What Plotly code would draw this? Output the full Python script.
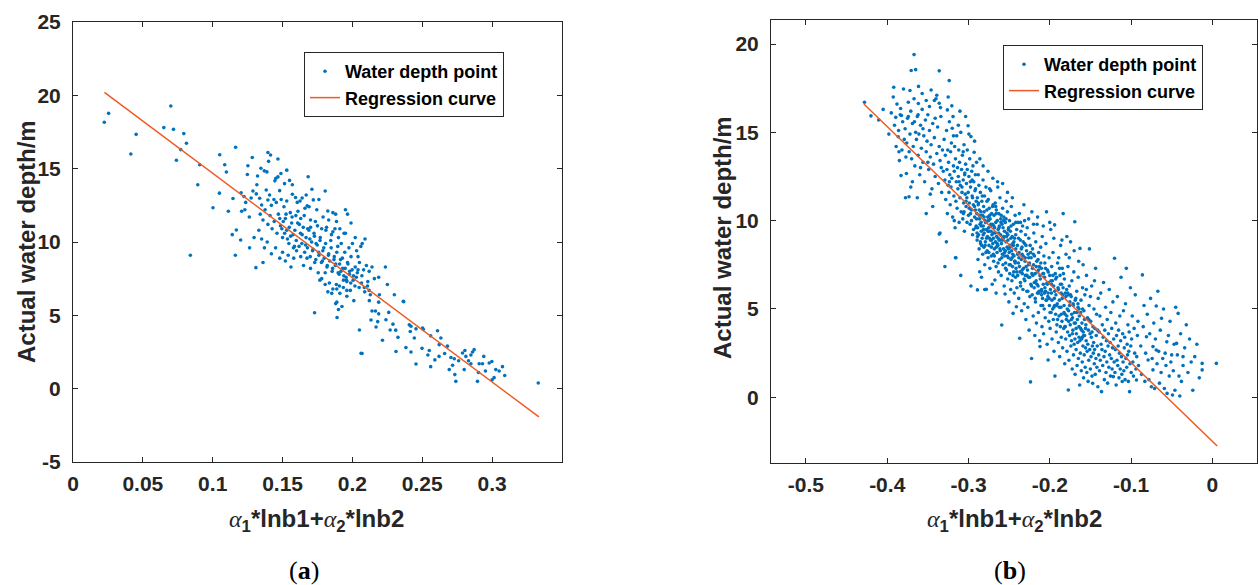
import plotly.graph_objects as go

# ---------------- Panel (a) data ----------------
pts_a_left = [(0.0224,18.16),(0.0255,18.77),(0.0414,16.0),(0.0452,17.34),(0.065,17.8),(0.070,19.27),
    (0.0719,17.68),(0.0793,17.39),(0.0812,16.73),(0.0771,16.3),(0.074,15.57),(0.0907,15.27),(0.0893,13.9),(0.084,9.1)]
pts_a_b = [(0.1002,12.34),(0.1048,13.33),(0.105,15.95),(0.1086,15.27),(0.1098,14.77),(0.1112,12.1),(0.1140,10.5),
    (0.1169,10.82),(0.1164,16.46),(0.1162,9.1),(0.1200,10.14),(0.1203,13.35),(0.1207,12.1),(0.1145,12.97),(0.1264,9.6),
    (0.1309,8.25),(0.1283,15.76),(0.1252,15.2),(0.1248,14.6),(0.1224,13.1),(0.1236,12.7),(0.1275,13.0),(0.1288,13.48),
    (0.1262,11.7),(0.1296,10.3),(0.1230,12.2)]
pts_a_c = [(0.1321,14.5),(0.1316,13.9),(0.1345,15.03),(0.1395,16.1),(0.1414,15.93),(0.1400,15.5),(0.1467,15.66),
    (0.1369,14.85),(0.1388,14.78),(0.1452,14.35),(0.1467,14.44),(0.1445,14.17),(0.1488,14.67),(0.1514,13.98),(0.1312,13.28),
    (0.1336,12.98),(0.1383,13.55),(0.1407,13.2),(0.1438,12.9),(0.1479,13.5),(0.1350,12.52),(0.1395,12.86),(0.1420,12.5),
    (0.1455,12.7),(0.1490,12.9),(0.1340,11.9),(0.1360,11.5),(0.1375,12.2),(0.1395,11.2),(0.1410,11.8),(0.1425,10.9),
    (0.1440,11.4),(0.1460,10.6),(0.1470,11.9),(0.1485,11.1),(0.1500,10.3),(0.1510,12.4),(0.1520,11.6),(0.1530,10.8),
    (0.1545,9.9),(0.1555,12.0),(0.1565,11.3),(0.1575,10.5),(0.1585,9.7),(0.1595,11.8),(0.1350,10.2),(0.1370,9.6),
    (0.1390,10.0),(0.1420,9.2),(0.1450,9.6),(0.1480,8.9),(0.1500,9.3),(0.1520,8.7),(0.1540,9.1),(0.1560,8.3),(0.1580,8.9),
    (0.1600,9.4),(0.1570,13.26),(0.1593,13.03),(0.1605,12.7),(0.1570,13.9),(0.1330,10.8),(0.1360,8.6),(0.1530,14.9),(0.1550,14.2)]
pts_a_d = [(0.1683,14.45),(0.1669,13.2),(0.1720,12.87),(0.1676,12.46),(0.1805,13.48),(0.1824,12.11),(0.1860,12.0),
    (0.1886,11.4),(0.1620,11.2),(0.1640,10.5),(0.1655,11.8),(0.1665,9.8),(0.1680,10.9),(0.1695,10.2),(0.1700,11.5),
    (0.1715,9.4),(0.1725,10.6),(0.1740,9.9),(0.1750,11.1),(0.1760,9.1),(0.1770,10.3),(0.1785,8.7),(0.1795,9.6),(0.1810,10.8),
    (0.1820,8.4),(0.1830,9.2),(0.1845,10.1),(0.1855,8.0),(0.1870,9.0),(0.1880,8.5),(0.1895,9.7),(0.1905,7.8),(0.1915,8.8),
    (0.1930,8.2),(0.1945,9.3),(0.1955,7.6),(0.1965,8.6),(0.1980,8.0),(0.1990,9.0),(0.2005,7.4),(0.2020,8.3),(0.2035,7.9),
    (0.2050,8.6),(0.2065,7.2),(0.2080,8.1),(0.1630,9.0),(0.1650,8.4),(0.1675,8.9),(0.1700,8.2),(0.1730,8.6),(0.1755,7.9),
    (0.1780,7.5),(0.1805,7.9),(0.1835,7.2),(0.1860,6.8),(0.1885,7.1),(0.1910,6.5),(0.1935,6.9),(0.1960,6.3),(0.1985,6.7),
    (0.1925,5.6),(0.1729,5.18),(0.1880,5.8),(0.1890,4.85),(0.2010,6.0),(0.1690,12.4),(0.1710,13.6),(0.1745,12.2),
    (0.1760,12.9),(0.1790,11.7),(0.1815,11.0),(0.1850,10.5),(0.1875,10.9),(0.1900,10.3),(0.1920,9.9),(0.1950,10.6),
    (0.1975,9.6),(0.2000,9.9),(0.2030,9.4),(0.2060,9.7),(0.2090,10.2),(0.1640,13.0),(0.1660,12.3),(0.1625,12.8),
    (0.1950,12.2),(0.1965,11.9),(0.1990,11.3),(0.2040,9.0),(0.2100,8.4),(0.2120,8.0),(0.2140,8.3),(0.2110,7.3),
    (0.1767,7.4),(0.1805,7.1),(0.1824,6.6),(0.1852,6.5),(0.1888,6.8),(0.1907,7.0),(0.1936,7.4),(0.1960,7.3),(0.1888,5.9),
    (0.1900,5.4),(0.1960,6.7)]
pts_a_core = [(0.1480,11.6),(0.1495,10.9),(0.1505,11.4),(0.1515,10.6),(0.1525,11.9),(0.1535,10.2),(0.1548,11.0),
    (0.1558,10.4),(0.1568,11.7),(0.1578,9.6),(0.1588,10.8),(0.1598,10.1),(0.1608,11.3),(0.1618,9.7),(0.1628,10.6),
    (0.1638,9.9),(0.1648,11.0),(0.1658,9.3),(0.1668,10.3),(0.1678,9.6),(0.1688,10.8),(0.1698,9.0),(0.1708,10.0),
    (0.1718,9.5),(0.1728,10.4),(0.1738,8.8),(0.1748,9.8),(0.1758,9.3),(0.1768,10.1),(0.1778,8.6),(0.1788,9.4),(0.1798,8.9),
    (0.1808,9.9),(0.1818,8.3),(0.1828,9.1),(0.1838,8.7),(0.1848,9.6),(0.1858,8.2),(0.1868,8.8),(0.1878,8.4),(0.1888,9.3),
    (0.1898,7.9),(0.1908,8.5),(0.1918,8.0),(0.1928,8.9),(0.1938,7.7),(0.1948,8.2),(0.1958,7.4),(0.1968,8.5),(0.1978,7.8),
    (0.1988,7.2),(0.1998,8.1),(0.2008,7.7),(0.2018,7.0),(0.2028,7.6),(0.2048,6.9),(0.2068,7.7),(0.2088,6.6),(0.2108,7.0),
    (0.2128,6.4),(0.1530,12.8),(0.1610,12.1),(0.1630,11.6),(0.1700,11.0),(0.1735,11.4),(0.1780,10.9),(0.1830,11.5),
    (0.1860,10.7),(0.1880,11.9),(0.1910,10.9),(0.1940,10.6),(0.2020,10.3),(0.2070,9.9),(0.2040,8.1)]
pts_a_right = [(0.2050,4.0),(0.2062,2.41),(0.2121,6.0),(0.2133,4.68),(0.2181,4.57),(0.2169,4.2),(0.2140,5.3),
    (0.2165,5.3),(0.2188,5.1),(0.2240,4.7),(0.2188,5.9),(0.2193,6.4),(0.2085,6.9),(0.2120,6.7),(0.2157,7.5),(0.2188,7.6),
    (0.2236,8.3),(0.2364,5.96),(0.2310,3.99),(0.2326,3.5),(0.2383,2.8),(0.2312,2.53),(0.2407,4.35),(0.2419,4.26),
    (0.2455,4.08),(0.2443,3.45),(0.2502,4.13),(0.2455,1.68),(0.2498,2.75),(0.2540,2.3),(0.2550,2.6),(0.2590,1.96),
    (0.2609,3.95),(0.2633,3.45),(0.2621,3.0),(0.2693,1.3),(0.2717,1.6),(0.2705,2.13),(0.2729,2.04),(0.2733,0.96),
    (0.2740,0.5),(0.2788,2.43),(0.2805,2.6),(0.2812,2.2),(0.2848,2.3),(0.2860,2.5),(0.2871,2.66),(0.2831,1.9),(0.2848,1.7),
    (0.2907,1.7),(0.2931,1.7),(0.2979,1.75),(0.2998,1.85),(0.2902,1.1),(0.2895,0.5),(0.2952,1.2),(0.3026,1.3),(0.3050,1.2),
    (0.3074,1.5),(0.3014,0.75),(0.3330,0.39),(0.2507,4.05),(0.2414,3.9),(0.2419,2.5),(0.2367,5.93),(0.2069,2.4),
    (0.2260,5.2),(0.2290,4.4),(0.2215,3.3),(0.2560,3.6),(0.2660,2.4),(0.2680,2.9),(0.2760,1.9),(0.2560,1.5),(0.2620,2.2),
    (0.2800,1.3),(0.3000,0.6),(0.3090,0.9),(0.2940,2.2),(0.2250,7.1),(0.2300,6.4),(0.2270,4.0)]

# ---------------- Panel (b) data ----------------
pts_b1 = [(-0.428,16.7),(-0.420,15.93),(-0.4105,15.7),(-0.405,16.3),(-0.398,14.9),(-0.395,16.1),(-0.392,17.55),
    (-0.3926,17.0),(-0.391,15.4),(-0.389,14.2),(-0.388,16.6),(-0.386,15.1),(-0.385,13.4),(-0.384,16.0),(-0.3819,14.0),
    (-0.381,15.6),(-0.380,17.45),(-0.383,12.55),(-0.379,14.6),(-0.3825,15.95),(-0.3865,14.75),(-0.3895,15.85),
    (-0.3775,11.3),(-0.3835,16.35),(-0.3855,13.9)]
pts_b2 = [(-0.367,19.4),(-0.3705,18.5),(-0.365,18.55),(-0.336,18.48),(-0.3237,17.93),(-0.372,17.37),(-0.374,16.7),
    (-0.3617,16.63),(-0.348,16.46),(-0.342,16.8),(-0.336,16.65),(-0.326,16.27),(-0.325,17.0),(-0.3764,12.67),(-0.3732,11.35),
    (-0.352,10.4),(-0.336,9.24),(-0.378,15.2),(-0.376,14.4),(-0.375,15.8),(-0.373,13.9),(-0.372,14.9),(-0.371,16.2),
    (-0.370,13.5),(-0.369,15.5),(-0.368,14.2),(-0.367,16.9),(-0.366,13.1),(-0.365,15.0),(-0.364,14.6),(-0.363,15.9),
    (-0.362,13.7),(-0.361,14.9),(-0.360,12.6),(-0.359,15.4),(-0.358,14.1),(-0.357,16.3),(-0.356,13.3),(-0.355,14.8),
    (-0.354,12.2),(-0.353,15.7),(-0.352,13.9),(-0.351,14.5),(-0.350,16.0),(-0.349,12.9),(-0.348,15.1),(-0.347,13.6),
    (-0.346,14.3),(-0.345,11.8),(-0.344,15.5),(-0.343,13.2),(-0.342,14.7),(-0.341,12.5),(-0.340,16.9),(-0.339,13.8),
    (-0.338,15.3),(-0.337,12.1),(-0.336,14.2),(-0.335,13.4),(-0.334,15.9),(-0.333,11.6),(-0.332,14.0),(-0.331,12.8),
    (-0.374,15.9),(-0.369,12.2),(-0.363,11.3),(-0.357,17.2),(-0.352,16.8),(-0.346,17.4),(-0.344,10.8),(-0.339,17.1),
    (-0.3345,16.4),(-0.359,13.0),(-0.356,15.2),(-0.362,16.0),(-0.377,13.6),(-0.371,11.9),(-0.350,13.3),(-0.347,11.5),
    (-0.341,15.8),(-0.3335,13.0),(-0.3615,17.6),(-0.3665,15.6)]
pts_b3 = [(-0.330,14.6),(-0.329,12.3),(-0.3285,13.7),(-0.328,11.2),(-0.327,15.1),(-0.3265,12.9),(-0.326,10.4),
    (-0.3255,14.0),(-0.325,12.0),(-0.3245,13.3),(-0.324,11.6),(-0.3235,15.6),(-0.323,12.6),(-0.3225,10.9),(-0.322,13.9),
    (-0.3215,11.9),(-0.321,14.4),(-0.3205,12.4),(-0.320,15.23),(-0.3195,10.2),(-0.319,15.89),(-0.3185,13.1),(-0.318,11.4),
    (-0.3175,12.8),(-0.317,14.2),(-0.3165,9.6),(-0.316,13.5),(-0.3155,11.1),(-0.315,12.2),(-0.3145,14.8),(-0.314,10.7),
    (-0.3135,13.0),(-0.313,11.8),(-0.3125,12.5),(-0.312,14.0),(-0.3115,9.9),(-0.311,13.3),(-0.3105,11.3),(-0.310,12.0),
    (-0.3095,15.0),(-0.309,10.5),(-0.3085,12.9),(-0.308,11.6),(-0.3075,13.7),(-0.307,10.1),(-0.3065,12.3),(-0.306,11.0),
    (-0.3055,14.3),(-0.305,9.4),(-0.3045,12.7),(-0.304,11.5),(-0.3035,13.2),(-0.303,10.8),(-0.3025,12.1),(-0.302,11.3),
    (-0.3015,14.0),(-0.3005,15.37),(-0.300,10.3),(-0.2995,12.5),(-0.299,11.0),(-0.2985,13.5),(-0.298,9.8),(-0.2975,11.9),
    (-0.297,14.76),(-0.2965,10.6),(-0.296,12.8),(-0.2955,11.4),(-0.295,9.2),(-0.2945,13.1),(-0.294,10.9),(-0.2935,12.2),
    (-0.293,13.87),(-0.2925,10.2),(-0.292,11.7),(-0.2915,12.6),(-0.291,9.6),(-0.2905,11.1),(-0.290,13.3),(-0.3272,8.8),
    (-0.3155,7.9),(-0.3095,6.9),(-0.3205,16.5),(-0.3105,16.2),(-0.3035,15.9),(-0.2995,14.9),(-0.2925,14.5),(-0.3185,14.8),
    (-0.3125,15.4),(-0.3065,13.9),(-0.3015,12.9),(-0.2955,12.3),(-0.2915,10.6),(-0.3235,12.2),(-0.3175,10.0),
    (-0.3115,12.2),(-0.3055,10.5),(-0.2975,10.4),(-0.2905,9.7),(-0.329,7.4),(-0.335,9.3),(-0.316,7.9)]
pts_b4 = [(-0.2898,10.4),(-0.2894,8.9),(-0.2891,11.3),(-0.2887,9.6),(-0.2883,7.8),(-0.2880,10.9),(-0.2876,9.2),
    (-0.2872,12.0),(-0.2869,8.4),(-0.2865,10.1),(-0.2862,7.11),(-0.2858,9.8),(-0.2854,11.6),(-0.2851,8.7),(-0.2847,10.5),
    (-0.2843,9.4),(-0.2840,6.8),(-0.2836,11.1),(-0.2832,9.0),(-0.2829,10.3),(-0.2825,8.1),(-0.2821,12.3),(-0.2818,9.7),
    (-0.2814,10.8),(-0.2810,8.5),(-0.2807,9.3),(-0.2803,11.4),(-0.2800,7.5),(-0.2796,10.0),(-0.2792,8.8),(-0.2789,9.9),
    (-0.2785,11.9),(-0.2781,6.11),(-0.2778,9.5),(-0.2774,10.6),(-0.2770,8.3),(-0.2767,9.1),(-0.2763,10.2),(-0.2759,7.9),
    (-0.2756,11.2),(-0.2752,9.6),(-0.2748,8.6),(-0.2745,10.7),(-0.2741,9.0),(-0.2737,7.3),(-0.2734,10.1),(-0.2730,8.9),
    (-0.2726,11.7),(-0.2723,9.4),(-0.2719,8.0),(-0.2715,10.4),(-0.2712,9.2),(-0.2708,6.4),(-0.2704,9.8),(-0.2701,8.7),
    (-0.2697,10.9),(-0.2693,9.3),(-0.2690,7.7),(-0.2686,10.3),(-0.2682,8.4),(-0.2679,9.6),(-0.2675,6.64),(-0.2671,11.0),
    (-0.2668,8.8),(-0.2664,9.9),(-0.2660,7.4),(-0.2657,10.6),(-0.2653,9.1),(-0.2649,8.2),(-0.2646,10.0),(-0.2642,12.2),
    (-0.2638,8.6),(-0.2635,9.5),(-0.2631,7.1),(-0.2627,10.4),(-0.2624,8.9),(-0.2620,9.7),(-0.2616,7.8),(-0.2613,11.3),
    (-0.2609,8.3),(-0.2605,9.2),(-0.2602,10.1),(-0.2598,6.9),(-0.2594,8.7),(-0.2591,4.09),(-0.2587,9.8),(-0.2583,8.1),
    (-0.2580,10.7),(-0.2576,7.5),(-0.2572,9.0),(-0.2569,8.4),(-0.2565,10.2),(-0.2561,6.3),(-0.2558,9.4),(-0.2554,8.0),
    (-0.2550,5.85),(-0.2547,9.9),(-0.2543,7.6),(-0.2539,8.8),(-0.2536,11.1),(-0.2532,7.2),(-0.2528,9.3),(-0.2525,8.5),
    (-0.2521,10.5),(-0.2517,6.7),(-0.2514,8.9),(-0.2510,7.9),(-0.2506,9.6),(-0.2503,5.4),(-0.2499,8.2),(-0.2495,10.0),
    (-0.2492,7.0),(-0.2488,8.6),(-0.2484,9.4),(-0.2481,6.1),(-0.2477,7.8),(-0.2473,10.8),(-0.2470,8.3),(-0.2466,6.6),
    (-0.2462,9.1),(-0.2459,7.4),(-0.2455,8.7),(-0.2451,4.75),(-0.2448,9.8),(-0.2444,7.1),(-0.2440,8.0),(-0.2437,5.9),
    (-0.2433,9.0),(-0.2429,7.7),(-0.2426,10.3),(-0.2422,6.8),(-0.2418,8.4),(-0.2415,7.3),(-0.2411,5.13),(-0.2407,9.5),
    (-0.2404,6.2),(-0.2880,12.6),(-0.2820,13.1),(-0.2760,12.8),(-0.2700,12.4),(-0.2640,11.9),(-0.2580,12.1),(-0.2520,11.6),
    (-0.2460,11.3),(-0.2860,13.5),(-0.2740,11.8),(-0.2845,9.9),(-0.2815,9.5),(-0.2785,8.2),(-0.2755,10.0),(-0.2725,9.8),
    (-0.2695,8.1),(-0.2665,10.8),(-0.2635,9.0),(-0.2605,8.9),(-0.2575,9.6),(-0.2545,8.3),(-0.2515,9.2),(-0.2485,7.5),
    (-0.2455,8.1),(-0.2425,7.6),(-0.2895,9.3),(-0.2868,10.6),(-0.2838,8.6),(-0.2808,10.2),(-0.2778,9.0),(-0.2748,9.4),
    (-0.2718,8.5),(-0.2688,9.7),(-0.2658,8.5),(-0.2628,9.3),(-0.2598,10.3),(-0.2568,9.1),(-0.2538,10.1),(-0.2508,8.4),
    (-0.2478,9.0),(-0.2448,8.6),(-0.2418,9.9),(-0.297,6.3),(-0.289,6.08),(-0.280,6.1),(-0.266,5.9)]
pts_b5 = [(-0.2398,8.6),(-0.2394,6.9),(-0.2390,9.9),(-0.2386,7.6),(-0.2382,5.6),(-0.2378,8.2),(-0.2374,10.4),
    (-0.2370,3.34),(-0.2366,7.1),(-0.2362,8.9),(-0.2358,6.3),(-0.2354,9.4),(-0.2350,7.8),(-0.2346,4.9),(-0.2342,8.5),
    (-0.2338,7.0),(-0.2334,9.7),(-0.2330,6.1),(-0.2326,8.0),(-0.2322,7.3),(-0.2318,10.9),(-0.2314,5.3),(-0.2310,8.7),
    (-0.2306,6.6),(-0.2302,7.9),(-0.2298,9.2),(-0.2294,4.4),(-0.2290,7.4),(-0.2286,8.3),(-0.2282,6.0),(-0.2278,9.6),
    (-0.2274,7.2),(-0.2270,5.1),(-0.2266,8.1),(-0.2262,6.8),(-0.2258,9.0),(-0.2254,3.8),(-0.2250,7.6),(-0.2245,5.7),
    (-0.2241,8.6),(-0.2237,0.87),(-0.2233,6.4),(-0.2229,7.9),(-0.2224,2.2),(-0.2220,10.5),(-0.2216,5.8),(-0.2212,8.4),
    (-0.2208,6.9),(-0.2204,4.6),(-0.2200,7.5),(-0.2196,9.3),(-0.2192,6.2),(-0.2188,8.0),(-0.2184,3.5),(-0.2180,7.0),
    (-0.2176,5.4),(-0.2172,8.8),(-0.2168,6.6),(-0.2164,4.2),(-0.2160,7.7),(-0.2156,9.8),(-0.2152,5.9),(-0.2148,7.1),
    (-0.2144,6.3),(-0.2140,4.8),(-0.2136,8.2),(-0.2132,6.0),(-0.2128,7.4),(-0.2124,3.2),(-0.2120,2.87),(-0.2116,6.7),
    (-0.2112,8.5),(-0.2108,5.2),(-0.2104,7.3),(-0.2100,6.1),(-0.2096,4.0),(-0.2092,9.1),(-0.2088,5.6),(-0.2084,7.0),
    (-0.2080,6.4),(-0.2076,3.6),(-0.2072,8.0),(-0.2068,5.0),(-0.2064,6.8),(-0.2060,7.6),(-0.2056,4.5),(-0.2052,6.0),
    (-0.2048,8.7),(-0.2044,5.5),(-0.2040,10.5),(-0.2036,6.45),(-0.2032,3.0),(-0.2028,7.2),(-0.2024,5.7),(-0.2020,2.11),
    (-0.2016,6.5),(-0.2012,4.3),(-0.2008,7.9),(-0.2004,5.2),(-0.2000,6.9),(-0.1996,3.9),(-0.1992,6.1),(-0.1988,9.5),
    (-0.1984,4.8),(-0.1980,5.9),(-0.1976,7.4),(-0.1972,3.3),(-0.1968,6.6),(-0.1964,5.0),(-0.1960,8.2),(-0.1956,4.4),
    (-0.1952,6.3),(-0.1948,2.6),(-0.1944,5.6),(-0.1940,9.76),(-0.1936,1.2),(-0.1932,7.0),(-0.1928,4.7),(-0.1924,5.8),
    (-0.1920,3.7),(-0.1916,6.8),(-0.1912,4.1),(-0.1908,5.3),(-0.1904,7.6),(-0.2380,7.9),(-0.2340,8.1),(-0.2300,6.9),
    (-0.2260,7.5),(-0.2220,7.0),(-0.2180,6.5),(-0.2140,7.2),(-0.2100,5.8),(-0.2060,6.2),(-0.2020,5.9),(-0.1980,6.4),
    (-0.1940,5.2),(-0.2360,9.9),(-0.2310,10.0),(-0.2260,10.1),(-0.2200,9.8),(-0.2150,10.2),(-0.2080,9.7),(-0.2000,9.9),
    (-0.1950,9.0)]
pts_b6 = [(-0.1898,6.2),(-0.1894,3.1),(-0.1890,7.9),(-0.1886,4.6),(-0.1882,5.5),(-0.1878,2.3),(-0.1874,6.9),
    (-0.1870,4.0),(-0.1866,8.6),(-0.1862,5.1),(-0.1858,3.4),(-0.1854,6.4),(-0.1850,4.3),(-0.1846,7.3),(-0.1842,2.8),
    (-0.1838,5.8),(-0.1835,10.4),(-0.1832,7.0),(-0.1828,3.9),(-0.1824,5.2),(-0.1820,6.7),(-0.1816,1.9),(-0.1812,4.7),
    (-0.1808,5.9),(-0.1804,3.3),(-0.1800,8.1),(-0.1796,4.4),(-0.1792,6.1),(-0.1788,2.6),(-0.1784,5.0),(-0.1780,3.7),
    (-0.1776,7.4),(-0.1772,0.41),(-0.1768,4.9),(-0.1764,2.1),(-0.1760,6.3),(-0.1756,3.5),(-0.1752,5.4),(-0.1748,4.1),
    (-0.1744,8.8),(-0.1740,2.9),(-0.1736,5.7),(-0.1732,3.2),(-0.1728,6.6),(-0.1724,1.6),(-0.1720,4.5),(-0.1716,3.8),
    (-0.1712,5.3),(-0.1708,2.4),(-0.1704,7.1),(-0.1700,3.0),(-0.1696,4.8),(-0.1692,9.94),(-0.1688,1.3),(-0.1684,4.2),
    (-0.1680,5.6),(-0.1676,2.7),(-0.1672,3.6),(-0.1668,6.0),(-0.1664,1.8),(-0.1660,4.4),(-0.1656,3.1),(-0.1652,5.1),
    (-0.1648,2.2),(-0.1644,7.7),(-0.1640,3.4),(-0.1636,4.6),(-0.1632,0.7),(-0.1628,8.43),(-0.1624,2.5),(-0.1620,3.9),
    (-0.1616,5.5),(-0.1612,1.5),(-0.1608,3.3),(-0.1604,4.2),(-0.1600,2.0),(-0.1596,6.2),(-0.1592,2.9),(-0.1588,3.7),
    (-0.1584,1.1),(-0.1580,4.9),(-0.1576,2.4),(-0.1572,3.5),(-0.1568,5.8),(-0.1564,1.7),(-0.1560,2.8),(-0.1556,4.1),
    (-0.1552,3.2),(-0.1548,6.9),(-0.1544,1.4),(-0.1540,2.6),(-0.1536,4.5),(-0.1532,3.0),(-0.1528,0.9),(-0.1524,3.8),
    (-0.1520,2.1),(-0.1516,5.2),(-0.1512,8.4),(-0.1508,2.7),(-0.1504,3.6),(-0.1500,1.6),(-0.1496,4.3),(-0.1492,2.3),
    (-0.1488,3.4),(-0.1484,6.3),(-0.1480,1.2),(-0.1476,2.9),(-0.1472,0.79),(-0.1468,4.0),(-0.1464,2.5),(-0.1460,3.1),
    (-0.1456,5.0),(-0.1452,1.9),(-0.1448,2.7),(-0.1444,3.9),(-0.1440,1.3),(-0.1436,7.3),(-0.1432,2.2),(-0.1428,3.5),
    (-0.1424,4.7),(-0.1420,1.7),(-0.1416,2.9),(-0.1412,3.8),(-0.1408,0.6),(-0.1404,5.6),(-0.1880,7.3),(-0.1850,8.9),
    (-0.1790,9.1),(-0.1760,7.9),(-0.1700,8.3),(-0.1650,6.8),(-0.1590,7.5),(-0.1550,6.1),(-0.1500,5.7),(-0.1450,6.6),
    (-0.1860,5.9),(-0.1810,4.0),(-0.1770,5.8),(-0.1730,4.7),(-0.1690,3.3),(-0.1640,5.0),(-0.1600,3.4),(-0.1560,3.9),
    (-0.1520,4.4),(-0.1480,3.7)]
pts_b7 = [(-0.1398,2.4),(-0.1393,3.7),(-0.1388,1.5),(-0.1383,4.6),(-0.1378,2.1),(-0.1373,5.9),(-0.1368,3.0),
    (-0.1363,0.32),(-0.1358,2.7),(-0.1353,4.1),(-0.1348,1.8),(-0.1343,3.4),(-0.1338,6.5),(-0.1333,2.3),(-0.1328,1.0),
    (-0.1323,3.8),(-0.1318,2.6),(-0.1313,5.1),(-0.1308,1.4),(-0.1303,3.2),(-0.1298,2.0),(-0.1293,4.4),(-0.1288,0.8),
    (-0.1283,2.9),(-0.1278,3.6),(-0.1273,1.7),(-0.1268,6.1),(-0.1263,2.4),(-0.1258,3.1),(-0.1253,1.2),(-0.1248,4.8),
    (-0.1243,2.2),(-0.1238,3.9),(-0.1233,1.6),(-0.1228,2.8),(-0.1223,5.4),(-0.1218,1.17),(-0.1213,3.3),(-0.1208,2.0),
    (-0.1203,7.87),(-0.1198,1.4),(-0.1193,2.7),(-0.1188,4.2),(-0.1183,0.7),(-0.1178,3.5),(-0.1173,2.1),(-0.1168,5.7),
    (-0.1163,1.8),(-0.1158,2.9),(-0.1153,3.8),(-0.1148,1.1),(-0.1143,2.5),(-0.1138,4.6),(-0.1133,1.6),(-0.1128,3.2),
    (-0.1123,6.8),(-0.1118,2.3),(-0.1113,1.3),(-0.1108,0.89),(-0.1103,3.6),(-0.1098,2.0),(-0.1093,4.9),(-0.1088,1.5),
    (-0.1083,2.8),(-0.1078,3.4),(-0.1073,1.0),(-0.1068,5.3),(-0.1063,2.2),(-0.1058,7.3),(-0.1053,1.7),(-0.1048,3.0),
    (-0.1043,2.4),(-0.1038,4.1),(-0.1033,0.9),(-0.1028,2.6),(-0.1023,3.7),(-0.1018,0.32),(-0.1013,1.9),(-0.1008,6.2),
    (-0.1003,2.9),(-0.0998,1.4),(-0.0993,3.3),(-0.0985,4.6),(-0.0978,2.0),(-0.0970,1.2),(-0.0962,3.9),(-0.0955,2.5),
    (-0.0948,5.8),(-0.0940,1.6),(-0.0933,0.98),(-0.0930,2.3),(-0.0922,3.5),(-0.0915,4.3),(-0.0908,1.8)]
pts_b8 = [(0.005,1.92),(-0.0125,1.92),(-0.0125,1.55),(-0.0216,2.3),(-0.036,1.8),(-0.036,2.3),(-0.042,4.75),
    (-0.044,3.05),(-0.056,3.14),(-0.058,2.5),(-0.050,2.4),(-0.049,0.13),(-0.040,0.07),(-0.0556,0.22),(-0.0625,4.47),
    (-0.069,5.17),(-0.086,6.93),(-0.073,2.87),(-0.069,2.68),(-0.081,3.43),(-0.085,4.0),(-0.079,2.11),(-0.073,1.55),
    (-0.075,0.6),(-0.088,2.9),(-0.087,1.3),(-0.084,5.2),(-0.083,0.9),(-0.082,2.5),(-0.080,4.7),(-0.078,1.0),(-0.077,3.6),
    (-0.076,5.6),(-0.074,2.2),(-0.072,4.2),(-0.071,0.5),(-0.070,3.3),(-0.068,1.9),(-0.067,6.0),(-0.066,2.6),(-0.065,0.8),
    (-0.064,3.8),(-0.063,1.4),(-0.061,2.2),(-0.060,5.0),(-0.059,0.5),(-0.057,1.8),(-0.054,3.5),(-0.053,1.2),(-0.052,4.3),
    (-0.051,2.0),(-0.048,1.5),(-0.047,3.0),(-0.046,0.4),(-0.045,5.1),(-0.043,2.4),(-0.041,1.2),(-0.039,3.6),(-0.038,0.9),
    (-0.034,2.8),(-0.032,4.1),(-0.030,1.4),(-0.028,3.3),(-0.026,2.0),(-0.024,0.4),(-0.019,3.0),(-0.016,1.1)]
pts_b_core = [(-0.3080,11.9),(-0.3062,10.4),(-0.3047,12.6),(-0.3031,11.1),(-0.3018,9.9),(-0.3004,11.6),(-0.2991,10.7),
    (-0.2977,12.2),(-0.2963,10.0),(-0.2950,11.3),(-0.2938,9.5),(-0.2926,10.8),(-0.2913,11.8),(-0.2901,10.1),(-0.2889,9.1),
    (-0.2877,11.0),(-0.2866,10.3),(-0.2853,8.8),(-0.2842,9.7),(-0.2830,11.4),(-0.2819,9.2),(-0.2807,10.5),(-0.2796,8.6),
    (-0.2784,9.9),(-0.2773,11.1),(-0.2761,9.4),(-0.2750,8.2),(-0.2739,10.3),(-0.2727,9.7),(-0.2716,8.9),(-0.2704,10.8),
    (-0.2693,9.0),(-0.2681,8.0),(-0.2670,9.3),(-0.2659,10.4),(-0.2647,8.7),(-0.2636,7.6),(-0.2624,9.6),(-0.2613,8.4),
    (-0.2601,9.9),(-0.2590,7.9),(-0.2579,8.9),(-0.2567,10.0),(-0.2556,8.2),(-0.2544,7.3),(-0.2533,9.1),(-0.2521,8.0),
    (-0.2510,9.5),(-0.2499,7.5),(-0.2487,8.5),(-0.2476,9.7),(-0.2464,7.9),(-0.2453,6.9),(-0.2441,8.8),(-0.2430,7.7),
    (-0.2419,9.2),(-0.2407,7.1),(-0.2396,8.1),(-0.2384,9.0),(-0.2373,7.4),(-0.2361,6.5),(-0.2350,8.4),(-0.2339,7.2),
    (-0.2327,8.8),(-0.2316,6.7),(-0.2304,7.7),(-0.2293,8.6),(-0.2281,6.9),(-0.2270,6.0),(-0.2259,7.9),(-0.2247,6.8),
    (-0.2236,8.2),(-0.2224,6.3),(-0.2213,7.3),(-0.2201,8.1),(-0.2190,6.5),(-0.2179,5.6),(-0.2167,7.4),(-0.2156,6.4),
    (-0.2144,7.8),(-0.2133,5.9),(-0.2121,6.9),(-0.2110,7.6),(-0.2099,6.0),(-0.2087,5.2),(-0.2076,7.0),(-0.2064,5.9),
    (-0.2053,7.3),(-0.2041,5.5),(-0.2030,6.4),(-0.2019,7.1),(-0.2007,5.6),(-0.1996,4.8),(-0.1984,6.6),(-0.1973,5.5),
    (-0.1961,6.9),(-0.1950,5.1),(-0.1939,6.0),(-0.1927,6.7),(-0.1916,5.2),(-0.1904,4.4),(-0.1893,6.1),(-0.1881,5.1),
    (-0.1870,6.4),(-0.1859,4.7),(-0.1847,5.6),(-0.1836,6.2),(-0.1824,4.8),(-0.1813,4.0),(-0.1801,5.7),(-0.1790,4.6),
    (-0.1779,5.9),(-0.1767,4.3),(-0.1756,5.2),(-0.1744,5.8),(-0.1733,4.4),(-0.1721,3.6),(-0.1710,5.2),(-0.1699,4.2),
    (-0.1687,5.5),(-0.1676,3.9),(-0.1664,4.8),(-0.1653,5.3),(-0.1641,4.0),(-0.1630,3.2),(-0.1619,4.8),(-0.1607,3.8),
    (-0.1596,5.0),(-0.1584,3.5),(-0.1573,4.4)]

# regression line end points
reg_a_x = [0.0225, 0.3335]
reg_a_y = [20.2, -1.93]
reg_b_x = [-0.4287, 0.006]
reg_b_y = [16.6, -2.76]

# axis ticks
xticks_a = [0, 0.05, 0.1, 0.15, 0.2, 0.25, 0.3]
xticklabels_a = ["0", "0.05", "0.1", "0.15", "0.2", "0.25", "0.3"]
yticks_a = [-5, 0, 5, 10, 15, 20, 25]
yticklabels_a = ["-5", "0", "5", "10", "15", "20", "25"]
xticks_b = [-0.5, -0.4, -0.3, -0.2, -0.1, 0]
xticklabels_b = ["-0.5", "-0.4", "-0.3", "-0.2", "-0.1", "0"]
yticks_b = [0, 5, 10, 15, 20]
yticklabels_b = ["0", "5", "10", "15", "20"]

pts_a = pts_a_left + pts_a_b + pts_a_c + pts_a_d + pts_a_core + pts_a_right
pts_b = pts_b1 + pts_b2 + pts_b3 + pts_b4 + pts_b5 + pts_b6 + pts_b7 + pts_b8 + pts_b_core

BLUE = "#0072BD"
ORANGE = "#EE5A24"
AX = "#262626"
W, H = 1258, 585

fig = go.Figure()
fig.add_trace(go.Scatter(x=[p[0] for p in pts_a], y=[p[1] for p in pts_a], mode="markers",
                         marker=dict(color=BLUE, size=3.6), name="Water depth point",
                         xaxis="x", yaxis="y", legend="legend"))
fig.add_trace(go.Scatter(x=reg_a_x, y=reg_a_y, mode="lines", line=dict(color=ORANGE, width=1.5),
                         name="Regression curve", xaxis="x", yaxis="y", legend="legend"))
fig.add_trace(go.Scatter(x=[p[0] for p in pts_b], y=[p[1] for p in pts_b], mode="markers",
                         marker=dict(color=BLUE, size=3.6), name="Water depth point",
                         xaxis="x2", yaxis="y2", legend="legend2"))
fig.add_trace(go.Scatter(x=reg_b_x, y=reg_b_y, mode="lines", line=dict(color=ORANGE, width=1.5),
                         name="Regression curve", xaxis="x2", yaxis="y2", legend="legend2"))

tickfont = dict(family="Liberation Sans", size=21, color=AX, weight="bold")
axis_common = dict(showline=True, linecolor=AX, linewidth=1, mirror="ticks", ticks="inside",
                   ticklen=5, tickcolor=AX, tickwidth=1, showgrid=False, zeroline=False,
                   tickfont=tickfont, automargin=False)
legend_font = dict(family="Liberation Sans", size=18, color="black", weight="bold")

fig.update_layout(
    width=W, height=H, margin=dict(l=0, r=0, t=0, b=0, autoexpand=False),
    paper_bgcolor="white", plot_bgcolor="white", showlegend=True,
    xaxis=dict(domain=[73 / W, 562 / W], anchor="y", range=[0, 0.35], tickvals=xticks_a,
               ticktext=xticklabels_a, ticklabelstandoff=3, **axis_common),
    yaxis=dict(domain=[1 - 462 / H, 1 - 22 / H], anchor="x", range=[-5, 25], tickvals=yticks_a,
               ticktext=yticklabels_a, ticklabelstandoff=7, **axis_common),
    xaxis2=dict(domain=[771 / W, 1257 / W], anchor="y2", range=[-0.543, 0.055], tickvals=xticks_b,
                ticktext=xticklabels_b, ticklabelstandoff=3, **axis_common),
    yaxis2=dict(domain=[1 - 463 / H, 1 - 20 / H], anchor="x2", range=[-3.72, 21.36], tickvals=yticks_b,
                ticktext=yticklabels_b, ticklabelstandoff=7, **axis_common),
    legend=dict(x=304 / W, y=1 - 52 / H, xanchor="left", yanchor="top", bgcolor="white",
                bordercolor=AX, borderwidth=1, font=legend_font, tracegroupgap=0, itemsizing="trace",
                entrywidth=198, entrywidthmode="pixels"),
    legend2=dict(x=1003 / W, y=1 - 45 / H, xanchor="left", yanchor="top", bgcolor="white",
                 bordercolor=AX, borderwidth=1, font=legend_font, tracegroupgap=0, itemsizing="trace",
                 entrywidth=198, entrywidthmode="pixels"),
)

alpha = '<span style="font-family:Liberation Serif;font-weight:normal;font-style:italic">α</span>'
xtitle = alpha + "<sub>1</sub>*lnb1+" + alpha + "<sub>2</sub>*lnb2"
title_font = dict(family="Liberation Sans", size=24, color=AX, weight="bold")
sub_font = dict(family="Liberation Serif", size=26, color="black")

ann = [
    dict(text="Actual water depth/m", x=27 / W, y=1 - 242 / H, textangle=-90, font=title_font),
    dict(text="Actual water depth/m", x=722 / W, y=1 - 238 / H, textangle=-90, font=title_font),
    dict(text=xtitle, x=317 / W, y=1 - 520 / H, font=title_font),
    dict(text=xtitle, x=1014 / W, y=1 - 520 / H, font=title_font),
    dict(text="(<b>a</b>)", x=304 / W, y=1 - 570 / H, font=sub_font),
    dict(text="(<b>b</b>)", x=1010 / W, y=1 - 570 / H, font=sub_font),
]
for a in ann:
    a.update(xref="paper", yref="paper", showarrow=False, xanchor="center", yanchor="middle")
fig.update_layout(annotations=ann)

fig.write_html("out.html")
